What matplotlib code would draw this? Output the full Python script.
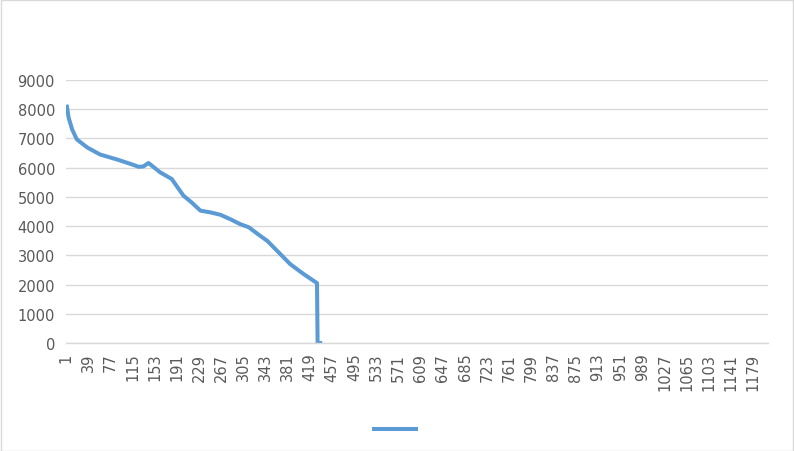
import numpy as np
import matplotlib.pyplot as plt

# values (category index, value)
idx = [1, 2, 5, 11, 19, 37, 59, 88, 111, 125, 133, 142, 162, 182, 190, 202, 216,
       231, 248, 265, 282, 299, 314, 330, 346, 385, 408, 431, 432, 440]
vals = [8150, 8100, 7710, 7310, 6970, 6690, 6450, 6280, 6130, 6030, 6040, 6160,
        5840, 5610, 5380, 5040, 4810, 4530, 4470, 4390, 4240, 4070, 3960, 3720,
        3490, 2700, 2360, 2050, 0, 0]
n_cat = 1204
tick_labels = list(range(1, n_cat, 38))

blue = '#5B9BD5'
grid = '#D9D9D9'
txt = '#595959'

fig = plt.figure(figsize=(7.94, 4.52), dpi=100)
ax = fig.add_axes([66 / 794, 1 - 344 / 452, 702 / 794, (344 - 81) / 452])

line, = ax.plot(idx, vals, color=blue, linewidth=2.9, solid_joinstyle='round',
                solid_capstyle='butt')

ax.set_xlim(0.5, n_cat + 0.5)
ax.set_ylim(0, 9000)
ax.set_yticks(range(0, 9001, 1000))
ax.set_xticks(tick_labels)
ax.set_xticklabels([str(t) for t in tick_labels], rotation=90)
ax.tick_params(axis='both', length=0, labelsize=10.5, labelcolor=txt)
ax.tick_params(axis='x', pad=7)
ax.tick_params(axis='y', pad=8)
ax.yaxis.grid(True, color=grid, linewidth=1.0)
ax.set_axisbelow(True)
for s in ['top', 'right', 'left']:
    ax.spines[s].set_visible(False)
ax.spines['bottom'].set_color(grid)
ax.spines['bottom'].set_linewidth(1.0)

fig.legend(handles=[line], labels=[''], loc='center', frameon=False,
           bbox_to_anchor=(395 / 794, 1 - 431 / 452), handlelength=3.1,
           handletextpad=0, fontsize=10.5)

# chart border
fig.patches.append(plt.Rectangle((0.001, 0.001), 0.998, 0.997, transform=fig.transFigure,
                                 fill=False, edgecolor=grid, linewidth=1.0))

fig.savefig('out.png', dpi=100)
